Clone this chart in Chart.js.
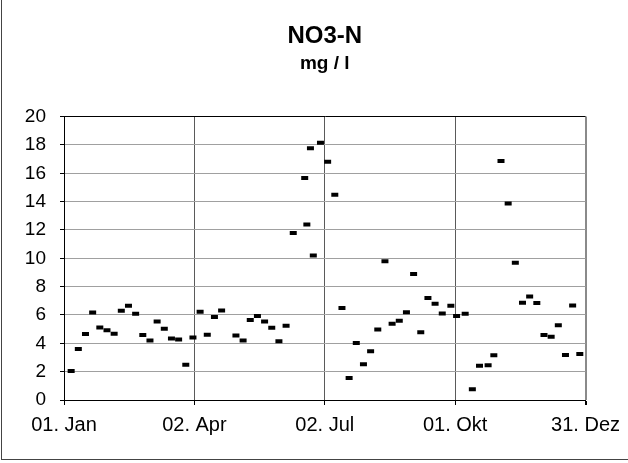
<!DOCTYPE html>
<html>
<head>
<meta charset="utf-8">
<script src="https://cdn.jsdelivr.net/npm/chart.js@4/dist/chart.umd.min.js"></script>
<style>
  body { margin: 0; background: #fff; }
  #wrap { position: relative; width: 628px; height: 463px; }
</style>
</head>
<body>
<div id="wrap"><canvas id="myChart"></canvas></div>
<script>
// day of year (0 = 01. Jan) and NO3-N values
const sampleDays = [5, 10, 15, 20, 25, 30, 35, 40, 45, 50, 55, 60, 65, 70, 75, 80, 85, 90, 95, 100, 105, 110,
  120, 125, 130, 135, 140, 145, 150, 155, 160, 168, 169.5, 172, 174,
  179, 184, 189, 194, 199, 204, 209, 214, 219, 224, 229, 234, 239, 244, 249, 254, 259, 264,
  270, 274, 280, 285, 290, 296, 300, 305, 310, 315, 320, 325, 330, 335, 340, 345, 350, 355, 360];
const no3Values = [2.05, 3.6, 4.65, 6.18, 5.12, 4.93, 4.67, 6.3, 6.65, 6.08, 4.58, 4.2, 5.54, 5.02, 4.34, 4.27, 2.48, 4.41, 6.23, 4.6, 5.85, 6.32,
  4.55, 4.2, 5.64, 5.92, 5.54, 5.09, 4.15, 5.24, 11.79, 15.66, 12.38, 17.76, 10.19,
  18.16, 16.82, 14.48, 6.49, 1.56, 4.03, 2.52, 3.44, 4.98, 9.79, 5.38, 5.59, 6.2, 8.89, 4.79, 7.19, 6.79, 6.11,
  6.65, 5.92, 6.08, 0.75, 2.41, 2.45, 3.16, 16.86, 13.87, 9.69, 6.86, 7.31, 6.84, 4.58, 4.46, 5.28, 3.18, 6.67, 3.25];
const tickDays = [0, 91, 182, 273, 364];
const tickLabels = ["01. Jan", "02. Apr", "02. Jul", "01. Okt", "31. Dez"];

const points = sampleDays.map((d, i) => ({ x: d, y: no3Values[i] }));

Chart.defaults.font.family = "'Liberation Sans', Arial, sans-serif";
Chart.defaults.color = "#000";

const frame = {
  id: "frame",
  afterLayout(chart) {
    // centre title and subtitle over the plot area, not the whole canvas
    chart.boxes.forEach(b => {
      if (b.options && b.options.text !== undefined && b.position === "top") {
        b.left = chart.chartArea.left;
        b.right = chart.chartArea.right;
      }
    });
  },
  afterDraw(chart) {
    const c = chart.ctx;
    c.save();
    c.fillStyle = "#444";
    c.fillRect(1, 0, 1, 460);
    c.fillRect(1, 459, 627, 1);
    c.restore();
  }
};

new Chart("myChart", {
  type: "scatter",
  data: {
    datasets: [{
      data: points,
      pointStyle: "line",
      radius: 3.5,
      hoverRadius: 3.5,
      borderWidth: 4,
      hoverBorderWidth: 4,
      borderColor: "#000",
      backgroundColor: "#000"
    }]
  },
  options: {
    responsive: true,
    maintainAspectRatio: false,
    animation: false,
    layout: { padding: { left: 0, right: 42, top: 0, bottom: 0 } },
    plugins: {
      legend: { display: false },
      tooltip: { enabled: false },
      title: {
        display: true,
        text: "NO3-N",
        font: { size: 24, weight: "bold" },
        padding: { top: 22, bottom: 0 }
      },
      subtitle: {
        display: true,
        text: "mg / l",
        color: "#000",
        font: { size: 19, weight: "bold" },
        padding: { top: 2, bottom: 41 }
      }
    },
    scales: {
      x: {
        type: "linear",
        min: 0,
        max: 364,
        afterFit(s) { s.height = 63; },
        ticks: {
          stepSize: 91,
          font: { size: 20 },
          padding: 8,
          callback: v => tickLabels[tickDays.indexOf(v)]
        },
        grid: {
          color: ctx => ctx.tick && ctx.tick.value === 364 ? "#8a8a8a" : "#5a5a5a",
          lineWidth: ctx => ctx.tick && ctx.tick.value === 364 ? 2 : 1,
          tickColor: "#000",
          tickLength: 5
        },
        border: { color: "#000" }
      },
      y: {
        min: 0,
        max: 20,
        afterFit(s) { s.width = 64; },
        ticks: { stepSize: 2, font: { size: 19 }, padding: 14 },
        grid: {
          color: ctx => ctx.tick && ctx.tick.value === 20 ? "#000" : "#a0a0a0",
          tickColor: "#000",
          tickLength: 4
        },
        border: { color: "#000" }
      }
    }
  },
  plugins: [frame]
});
</script>
</body>
</html>
